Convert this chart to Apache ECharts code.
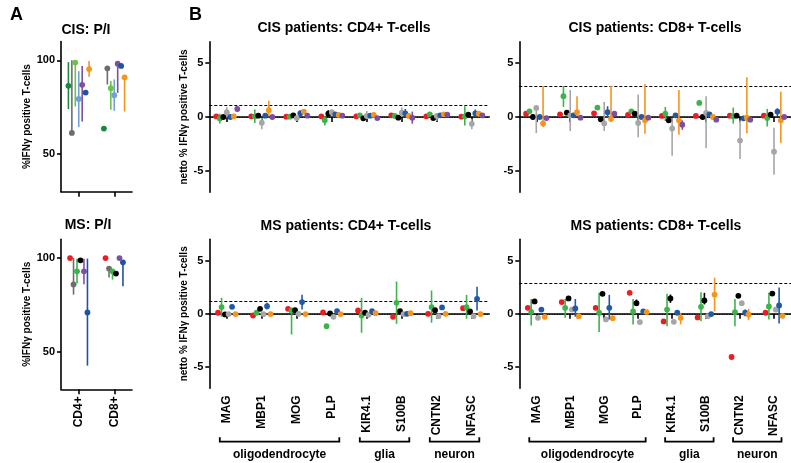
<!DOCTYPE html>
<html><head><meta charset="utf-8">
<script src="https://cdn.jsdelivr.net/npm/echarts@6/dist/echarts.min.js"></script>
<style>html,body{margin:0;padding:0;background:#fff}#c{width:791px;height:463px}</style>
</head><body><div id="c"></div>
<script>
// ---------- categories / labels ----------
const markers = ['MAG','MBP1','MOG','PLP','KIR4.1','S100B','CNTN2','NFASC'];
const cellTypes = ['CD4+','CD8+'];
const markerGroups = [['oligodendrocyte',0,3],['glia',4,5],['neuron',6,7]];
const yTicksA = [50, 100];
const yTicksB = [-5, 0, 5];

// ---------- panel A: %IFNg positive (per patient, [CD4+, CD8+]) ----------
const cisPI_vals = [
  [86.4, 63.6], [61.3, 95.7], [98.8, 85.1], [79.4, 81.4], [86.9, 98.2], [82.8, 97.0], [95.3, 90.9]
];
const cisPI_err = [
  [[74,99], null], [[61.3,100],[87.1,95.7]], [[75.4,98.8],[73.7,89]], [[64.4,94.2],[73.1,89.8]],
  [[67.4,97],[82.6,98.2]], [null,null], [[91.2,99.6],[72.7,90.9]]
];
const msPI_vals = [
  [100, 100], [85.9, 94.4], [92.9, 92.9], [98.8, 91.7], [92.9, 100], [71.0, 97.7]
];
const msPI_err = [
  [null,null], [[80.5,100],[89.6,95.5]], [[86.4,99.6],[88.5,93]], [null,null],
  [[86,99.6],null], [[42.6,99.7],[85,97.7]]
];

// ---------- panel B: netto % (per patient, 8 markers) ----------
const cisCD4_vals = [
  [0.06, 0.06, 0.03, 0.06, 0.06, 0.16, 0.06, 0.03],
  [-0.15, 0.06, 0.03, -0.3, 0.16, 0.1, 0.25, 0.06],
  [0, 0.12, 0.15, 0.3, -0.12, -0.06, -0.1, 0.22],
  [0.44, -0.53, -0.1, 0.44, 0.1, 0.4, 0.1, -0.63],
  [0, 0.12, 0.34, 0.25, 0.12, 0.34, 0.16, 0.34],
  [0.06, 0.63, 0.5, 0.19, 0.19, 0.1, 0.25, 0.3],
  [0.75, 0, 0.12, 0.12, -0.1, -0.06, 0.22, 0.15]
];
const cisCD4_err = [
  [null,null,null,null,null,null,null,null],
  [[-0.6,0.3],[-0.55,0.7],null,[-0.78,0.06],null,null,null,[-0.78,1.0]],
  [null,null,null,[0,0.63],null,null,null,null],
  [[-0.05,0.9],[-1.15,-0.06],null,[0.06,0.63],[-0.19,0.56],[0,0.88],[-0.38,0.38],[-1.15,-0.19]],
  [null,null,[0.06,0.63],null,null,[-0.06,0.75],null,[0,0.69]],
  [null,[0.06,1.5],null,null,null,null,null,null],
  [[0.47,1.0],null,null,null,null,[-0.62,0.5],null,null]
];
const cisCD8_vals = [
  [0.31, 0.25, 0.34, 0.19, 0.1, 0.1, 0.12, 0.12],
  [0.53, 1.94, 0.88, 0.53, 0.31, 1.31, 0.06, -0.1],
  [0, 0.4, -0.22, 0.31, -0.31, 0, 0.12, 0.22],
  [0.84, 0.16, -0.6, -0.56, -1.06, 0.38, -2.19, -3.22],
  [0, 0.16, 0.44, 0, 0.16, 0.25, -0.12, 0.5],
  [-0.6, 0.44, -0.16, -0.31, -0.31, 0, -0.06, -0.31],
  [-0.1, -0.06, 0.31, -0.06, -0.72, -0.25, -0.25, 0]
];
const cisCD8_err = [
  [null,null,null,null,null,null,null,null],
  [null,[0.94,2.88],null,null,[-0.38,0.94],null,[-0.62,0.88],[-0.88,0.75]],
  [null,null,null,null,null,null,null,null],
  [[-1.5,0.94],[-1.3,2.5],[-1.3,1.4],[-1.88,2.1],[-3.6,-0.06],[-2.88,1.94],[-3.9,-0.31],[-5.38,-1.0]],
  [null,null,[-0.06,1.0],null,null,null,null,[0.06,0.81]],
  [[-0.94,2.88],[0.06,1.94],[-0.47,2.88],[-1.56,3.06],[-1.66,2.5],null,[-1.5,3.69],[-2.4,2.34]],
  [null,null,null,null,[-1.19,-0.31],null,null,null]
];
const msCD4_vals = [
  [0.1, -0.16, 0.47, 0.12, 0.31, -0.28, 0, 0.53],
  [0.63, 0.1, 0.31, -1.16, -0.16, 1.03, 0.63, 0.63],
  [-0.06, 0.47, 0.34, 0.03, 0.1, 0.25, 0.34, 0.22],
  [-0.03, -0.03, 0, -0.28, -0.1, -0.03, -0.22, -0.22],
  [0.66, 0.72, 1.1, 0.25, 0.25, 0, 0.6, 1.4],
  [-0.03, -0.03, -0.03, -0.03, 0.06, 0.06, 0, -0.03]
];
const msCD4_err = [
  [null,null,null,null,null,null,null,null],
  [[-0.28,1.5],null,[-1.94,0.56],null,[-1.78,1.5],[-0.94,3.03],[-0.84,2.19],[-0.47,1.78]],
  [null,null,null,null,null,null,null,null],
  [null,null,null,null,null,null,null,null],
  [null,[0.4,1.03],[0.4,1.78],null,null,null,null,[0.31,2.53]],
  [null,null,null,null,null,null,null,null]
];
const msCD8_vals = [
  [0.56, 1.1, 0.56, 1.97, -0.72, -0.34, -4.06, 0.1],
  [0.19, 0.56, 0.1, 0.22, 0.4, 0.66, 0.16, 0.69],
  [1.16, 1.44, 1.88, 1.0, 1.44, 1.25, 1.69, 1.9],
  [-0.38, 0.4, -0.53, -0.78, -0.75, -0.22, 1.0, 0.4],
  [0.4, 0.5, 0.56, 0.22, 0.1, -0.03, 0.1, 0.78],
  [-0.28, -0.22, -0.41, 0.16, -0.38, 1.81, -0.06, -0.19]
];
const msCD8_err = [
  [null,null,null,null,null,null,null,null],
  [[-1.1,1.4],[-0.38,1.4],[-1.72,1.97],[-1.0,1.4],[-1.16,1.88],[-0.69,2.03],[-1.16,1.4],[-0.53,1.97]],
  [null,null,null,[0.72,1.34],[1.03,1.81],[0.88,1.97],null,null],
  [null,null,null,null,null,null,null,null],
  [null,[-0.28,1.4],[-0.53,1.78],null,null,null,[-0.22,0.41],[-0.9,2.47]],
  [null,null,null,null,[-1.0,0.1],[0.22,3.4],[-0.6,0.47],null]
];
const thresholds = [1.12, 2.83, 1.15, 2.88]; // cisCD4, cisCD8, msCD4, msCD8

// ---------- colours ----------
const cisB_colors = ['#ed1c24','#3cb44a','#000000','#a6a6a6','#1f5aa8','#f7941d','#7d4fa0'];
const msB_colors  = ['#ed1c24','#3cb44a','#000000','#a6a6a6','#1f5aa8','#f7941d'];
const cisA_colors = ['#178a3e','#6d6d6d','#6cc24a','#6fa0d8','#7f4fa0','#1f52a3','#f7941d'];
const msA_colors  = ['#ed1c24','#6d6d6d','#3cb44a','#000000','#7f4fa0','#1f52a3'];

const FONT = '"Liberation Sans", Arial, sans-serif';

function patientSeries(axisIdx, vals, errs, colors, frac, extra) {
  const n = vals.length;
  return vals.map((row, p) => {
    const data = row.map((v, i) => {
      const e = errs[p][i];
      return e ? [i, v, e[0], e[1]] : [i, v, v, v];
    });
    const s = {
      type: 'custom', xAxisIndex: axisIdx, yAxisIndex: axisIdx,
      encode: { x: 0, y: 1 }, dimensions: ['x','v','lo','hi'],
      data: data, silent: true, z: 3 + p,
      renderItem: function (params, api) {
        const i = api.value(0), v = api.value(1), lo = api.value(2), hi = api.value(3);
        const bw = api.size([1, 0])[0];
        const dx = (p - (n - 1) / 2) * frac * bw;
        const c = api.coord([i, v]);
        const x = c[0] + dx;
        const ch = [];
        if (hi > lo) {
          const a = api.coord([i, lo]), b = api.coord([i, hi]);
          ch.push({ type: 'line', shape: { x1: x, y1: a[1], x2: x, y2: b[1] },
            style: { stroke: colors[p], lineWidth: 1.6 } });
        }
        ch.push({ type: 'circle', shape: { cx: x, cy: c[1], r: 2.9 }, style: { fill: colors[p] } });
        return { type: 'group', children: ch };
      }
    };
    if (p === 0 && extra) s.markLine = extra;
    return s;
  });
}

function refLines(thr) {
  return {
    silent: true, symbol: ['none','none'], label: { show: false }, z: 1,
    data: [
      { yAxis: 0, lineStyle: { type: [1, 1.5], color: '#000', width: 1 } },
      { yAxis: thr, lineStyle: { type: [3, 2], color: '#000', width: 1.1 } }
    ]
  };
}

const axisLineStyle = { show: true, lineStyle: { color: '#000', width: 1.6 } };
const tickStyle = { lineStyle: { color: '#000', width: 1.6 } };

const grids = [
  { left: 61, top: 41.5, width: 71, height: 150.2 },
  { left: 61, top: 239.3, width: 71, height: 150 },
  { left: 209.3, top: 41.7, width: 280, height: 150.6 },
  { left: 519.3, top: 41.7, width: 280, height: 150.6 },
  { left: 209.3, top: 239.3, width: 280, height: 149 },
  { left: 519.3, top: 239.3, width: 280, height: 149 }
];

function xAx(g, cats, showLabels) {
  return {
    type: 'category', gridIndex: g, data: cats,
    axisLine: axisLineStyle,
    axisTick: Object.assign({ show: true, alignWithLabel: true, length: 5, interval: 0 }, tickStyle),
    axisLabel: { show: showLabels, interval: 0, rotate: 90, margin: 7, color: '#000',
      fontFamily: FONT, fontWeight: 'bold', fontSize: 12 },
    splitLine: { show: false }
  };
}
function yAx(g, min, max, ticks, name) {
  return {
    type: 'value', gridIndex: g, min: min, max: max,
    axisLine: axisLineStyle,
    axisTick: Object.assign({ show: true, length: 4, customValues: ticks }, tickStyle),
    axisLabel: { show: true, customValues: ticks, margin: 6, color: '#000',
      fontFamily: FONT, fontWeight: 'bold', fontSize: 11 },
    splitLine: { show: false },
    name: name || '', nameLocation: 'middle',
    nameGap: g < 2 ? 22 : 18,
    nameTextStyle: { color: '#000', fontFamily: FONT, fontWeight: 'bold', fontSize: 10 }
  };
}

const chart = echarts.init(document.getElementById('c'), null, { renderer: 'canvas' });
const series = [].concat(
  patientSeries(0, cisPI_vals, cisPI_err, cisA_colors, 0.097),
  patientSeries(1, msPI_vals, msPI_err, msA_colors, 0.098),
  patientSeries(2, cisCD4_vals, cisCD4_err, cisB_colors, 0.1, refLines(thresholds[0])),
  patientSeries(3, cisCD8_vals, cisCD8_err, cisB_colors, 0.1, refLines(thresholds[1])),
  patientSeries(4, msCD4_vals, msCD4_err, msB_colors, 0.1, refLines(thresholds[2])),
  patientSeries(5, msCD8_vals, msCD8_err, msB_colors, 0.1, refLines(thresholds[3]))
);

chart.setOption({
  animation: false,
  backgroundColor: '#fff',
  grid: grids,
  xAxis: [
    xAx(0, cellTypes, false), xAx(1, cellTypes, true),
    xAx(2, markers, false), xAx(3, markers, false),
    xAx(4, markers, true), xAx(5, markers, true)
  ],
  yAxis: [
    yAx(0, 30, 110, yTicksA, '%IFNγ positive T-cells'),
    yAx(1, 30, 110, yTicksA, '%IFNγ positive T-cells'),
    yAx(2, -7, 7, yTicksB, 'netto % IFNγ positive T-cells'),
    yAx(3, -7, 7, yTicksB, ''),
    yAx(4, -7, 7, yTicksB, 'netto % IFNγ positive T-cells'),
    yAx(5, -7, 7, yTicksB, '')
  ],
  series: series
});

// ---------- annotations: titles, panel letters, group brackets ----------
const titleFont = 'bold 14px ' + FONT;
function txt(text, x, y, font, align) {
  return { type: 'text', x: x, y: y, silent: true,
    style: { text: text, font: font, fill: '#000', textAlign: align || 'center', textVerticalAlign: 'middle' } };
}
const gfx = [
  txt('A', 10, 15, 'bold 18px ' + FONT, 'left'),
  txt('B', 189, 15, 'bold 18px ' + FONT, 'left'),
  txt('CIS: P/I', 86, 30, titleFont),
  txt('MS: P/I', 88, 225, titleFont),
  txt('CIS patients: CD4+ T-cells', 344, 28, titleFont),
  txt('CIS patients: CD8+ T-cells', 655, 28, titleFont),
  txt('MS patients: CD4+ T-cells', 346, 226, titleFont),
  txt('MS patients: CD8+ T-cells', 656, 226, titleFont)
];
[4, 5].forEach(function (ax) {
  markerGroups.forEach(function (g) {
    const x1 = chart.convertToPixel({ xAxisIndex: ax }, g[1]) - 7;
    const x2 = chart.convertToPixel({ xAxisIndex: ax }, g[2]) + 7.5;
    const y = 441.7;
    gfx.push({ type: 'polyline', silent: true,
      shape: { points: [[x1, y - 4.5], [x1, y], [x2, y], [x2, y - 4.5]] },
      style: { stroke: '#000', lineWidth: 1.8, fill: null } });
    gfx.push(txt(g[0], (x1 + x2) / 2, 455, 'bold 12px ' + FONT));
  });
});
chart.setOption({ graphic: gfx });
</script>
</body></html>
